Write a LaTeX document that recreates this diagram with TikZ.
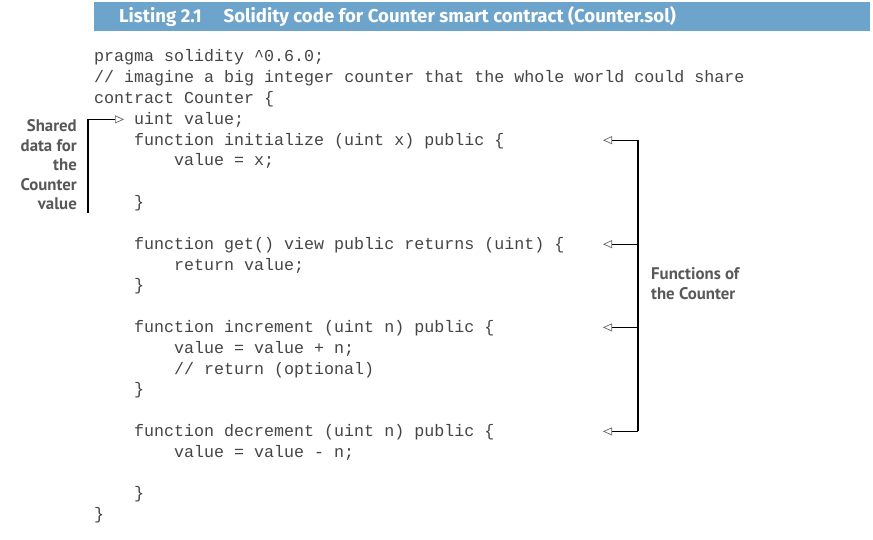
\documentclass[tikz,border=0pt]{standalone}
\usepackage{fontspec}
\setmainfont{PT Sans}
\setmonofont{Liberation Mono}
\newfontfamily\headfont{Fira Sans}
\usepackage{tikz}
\usetikzlibrary{arrows.meta}

\definecolor{barblue}{HTML}{6CA4CC}
\definecolor{notegray}{HTML}{585858}
\definecolor{codegray}{HTML}{444444}

\tikzset{
    code/.style={anchor=base west, inner sep=0pt, text=codegray,
        font=\ttfamily\fontsize{16.67}{20}\selectfont},
    note/.style={inner sep=0pt, text=notegray,
        font=\bfseries\fontsize{16.8}{19.5}\selectfont},
    callout/.style={line width=1.1pt,
        -{Triangle[open, length=9pt, width=8pt, line width=0.7pt, color=black!60]}}
}

\begin{document}
\begin{tikzpicture}[x=1pt, y=-1pt]
                \useasboundingbox (0,0) rectangle (873,540);
                % listing header
                \fill [barblue] (94,2) rectangle (870,31);
                \node [anchor=base west, inner sep=0pt, text=white, font=\headfont\bfseries\fontsize{18.6}{21}\selectfont]
                    (title) at (119,22.5) {Listing 2.1\hspace{22pt}Solidity code for Counter smart contract (Counter.sol)};
                % code lines
                \node [code] (pragma) at (94,62) {pragma solidity \textasciicircum 0.6.0;};
                \node [code] (cmt) at (94,82.8) {// imagine a big integer counter that the whole world could share};
                \node [code] (contract) at (94,103.6) {contract Counter \{};
                \node [code] (uint) at (134,124.4) {uint value;};
                \node [code] (init) at (134,145.2) {function initialize (uint x) public \{};
                \node [code] (initbody) at (174,166) {value = x;};
                \node [code] (initend) at (134,207.6) {\}};
                \node [code] (get) at (134,249.2) {function get() view public returns (uint) \{};
                \node [code] (getbody) at (174,270) {return value;};
                \node [code] (getend) at (134,290.8) {\}};
                \node [code] (inc) at (134,332.4) {function increment (uint n) public \{};
                \node [code] (incbody) at (174,353.2) {value = value + n;};
                \node [code] (inccmt) at (174,374) {// return (optional)};
                \node [code] (incend) at (134,394.8) {\}};
                \node [code] (dec) at (134,436.4) {function decrement (uint n) public \{};
                \node [code] (decbody) at (174,457.2) {value = value - n;};
                \node [code] (decend) at (134,498.8) {\}};
                \node [code] (close) at (94,519.6) {\}};
                % shared data callout
                \node [note, anchor=north east, align=right] (shared) at (77,119.5)
                    {Shared\\data for\\the\\Counter\\value};
                \coordinate (sbot) at (88,213);
                \coordinate (stop) at (88,119.4);
                \coordinate (suint) at (124,119.4);
                \draw [callout] (sbot) -- (stop) -- (suint);
                % functions callout
                \node [note, anchor=north west, align=left] (funcs) at (651,267.5)
                    {Functions of\\the Counter};
                \coordinate (binit) at (638,140.2);
                \coordinate (bget) at (638,244.2);
                \coordinate (binc) at (638,327.4);
                \coordinate (bdec) at (638,431.4);
                \draw [line width=1.1pt] (binit) -- (bdec);
                \draw [callout] (binit) -- (603,140.2);
                \draw [callout] (bget) -- (603,244.2);
                \draw [callout] (binc) -- (603,327.4);
                \draw [callout] (bdec) -- (603,431.4);
            \end{tikzpicture}
\end{document}
